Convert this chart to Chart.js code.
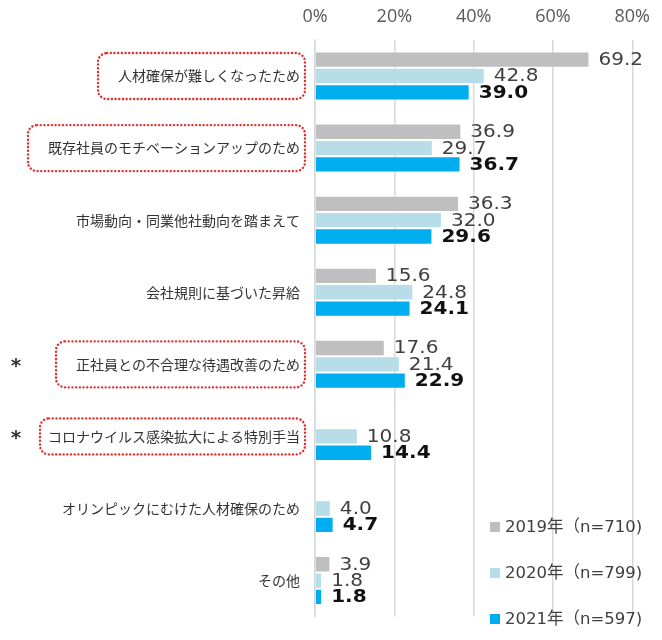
<!DOCTYPE html>
<html>
<head>
<meta charset="utf-8">
<script src="https://cdn.jsdelivr.net/npm/chart.js@4.4.1/dist/chart.umd.min.js"></script>
<style>
  body { margin: 0; background: #fff; }
  #wrap { width: 662px; height: 640px; }
</style>
</head>
<body>
<div id="wrap"><canvas id="chart"></canvas></div>
<script>
const categories = [
    '人材確保が難しくなったため',
    '既存社員のモチベーションアップのため',
    '市場動向・同業他社動向を踏まえて',
    '会社規則に基づいた昇給',
    '正社員との不合理な待遇改善のため',
    'コロナウイルス感染拡大による特別手当',
    'オリンピックにむけた人材確保のため',
    'その他'
];
const seriesLabels = ['2019年（n=710)', '2020年（n=799)', '2021年（n=597)'];
const values2019 = [69.2, 36.9, 36.3, 15.6, 17.6, null, null, 3.9];
const values2020 = [42.8, 29.7, 32.0, 24.8, 21.4, 10.8, 4.0, 1.8];
const values2021 = [39.0, 36.7, 29.6, 24.1, 22.9, 14.4, 4.7, 1.8];
const xTicks = [0, 20, 40, 60, 80];
// categories with red dotted box, and those marked with an asterisk
const boxedCategories = [0, 1, 4, 5];
const starredCategories = [4, 5];

const colors = ['#BFBFBF', '#B7DEE8', '#00AEEF'];

// value labels to the right of each bar
const valueLabels = {
    id: 'valueLabels',
    afterDatasetsDraw(chart) {
        const ctx = chart.ctx;
        ctx.save();
        chart.data.datasets.forEach((ds, di) => {
            const meta = chart.getDatasetMeta(di);
            meta.data.forEach((bar, i) => {
                const v = ds.data[i];
                if (v === null) return;
                ctx.save();
                ctx.translate(bar.x + 9, bar.y + 1);
                ctx.scale(1.18, 1);
                ctx.font = (di === 2 ? 'bold ' : '') + "17px 'DejaVu Sans'";
                ctx.fillStyle = di === 2 ? '#111' : '#404040';
                ctx.textBaseline = 'middle';
                ctx.textAlign = 'left';
                ctx.fillText(v.toFixed(1), 0, 0);
                ctx.restore();
            });
        });
        ctx.restore();
    }
};

// red dotted boxes round some category labels, plus asterisks
const labelBoxes = {
    id: 'labelBoxes',
    afterDraw(chart) {
        const ctx = chart.ctx;
        const y = chart.scales.y;
        ctx.save();
        ctx.font = "14px 'Noto Sans CJK JP'";
        boxedCategories.forEach(i => {
            const cy = y.getPixelForValue(i);
            const w = ctx.measureText(categories[i]).width;
            const right = 305;
            const left = 300 - w - (i === 5 ? 8 : 20);
            const h = i === 5 ? 36 : 46;
            ctx.beginPath();
            ctx.roundRect(left, cy - h / 2, right - left, h, 9);
            ctx.strokeStyle = '#E03030';
            ctx.lineWidth = 2.4;
            ctx.lineCap = 'round';
            ctx.setLineDash([0.1, 3.6]);
            ctx.stroke();
        });
        ctx.setLineDash([]);
        ctx.font = "bold 20px 'DejaVu Sans'";
        ctx.fillStyle = '#333';
        ctx.textAlign = 'center';
        ctx.textBaseline = 'middle';
        starredCategories.forEach(i => {
            ctx.fillText('*', 16, y.getPixelForValue(i) + 2);
        });
        ctx.restore();
    }
};

// legend in the lower right of the plot
const cornerLegend = {
    id: 'cornerLegend',
    afterDraw(chart) {
        const ctx = chart.ctx;
        ctx.save();
        chart.data.datasets.forEach((ds, di) => {
            const ly = 527 + di * 46;
            ctx.fillStyle = ds.backgroundColor;
            ctx.fillRect(490, ly - 5, 10, 10);
            ctx.fillStyle = '#404040';
            ctx.font = "16.5px 'DejaVu Sans', 'Noto Sans CJK JP'";
            ctx.textBaseline = 'middle';
            ctx.fillText(ds.label, 505, ly + 1);
        });
        ctx.restore();
    }
};

const ctx = document.querySelector('#chart').getContext('2d');
new Chart(ctx, {
    type: 'bar',
    data: {
        labels: categories,
        datasets: [values2019, values2020, values2021].map((vals, k) => ({
            label: seriesLabels[k],
            data: vals,
            backgroundColor: colors[k],
            borderColor: 'rgba(255,255,255,0.5)',
            borderWidth: 1,
            categoryPercentage: 0.68,
            barPercentage: 1.0
        }))
    },
    options: {
        indexAxis: 'y',
        responsive: true,
        maintainAspectRatio: false,
        animation: false,
        layout: { padding: { left: 0, right: 20, top: 0, bottom: 0 } },
        plugins: {
            legend: { display: false },
            tooltip: { enabled: false }
        },
        scales: {
            x: {
                position: 'top',
                min: 0,
                max: 80,
                afterBuildTicks: scale => {
                    scale.ticks = xTicks.map(v => ({ value: v }));
                },
                afterFit: scale => { scale.height = 40; },
                ticks: {
                    callback: v => v + '%',
                    font: { family: "'Open Sans'", size: 18 },
                    color: '#595959',
                    padding: 12
                },
                grid: { color: '#D9D9D9', drawTicks: false, lineWidth: 1.5 },
                border: { display: false }
            },
            y: {
                afterFit: scale => { scale.width = 315; },
                ticks: {
                    font: { family: "'Noto Sans CJK JP'", size: 14 },
                    color: '#333',
                    padding: 15,
                    autoSkip: false
                },
                grid: { display: false, drawTicks: false },
                border: { color: '#D9D9D9', width: 1.5 }
            }
        }
    },
    plugins: [valueLabels, labelBoxes, cornerLegend]
});
</script>
</body>
</html>
